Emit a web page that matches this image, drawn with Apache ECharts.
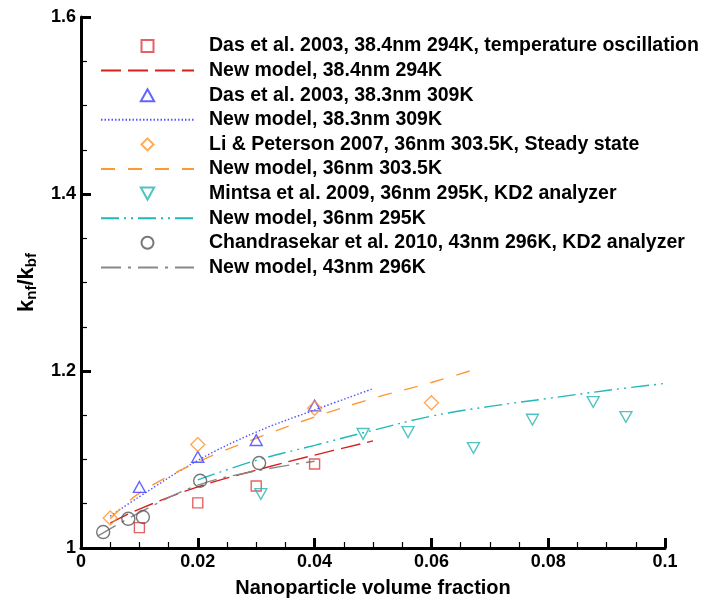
<!DOCTYPE html>
<html><head><meta charset="utf-8">
<script src="https://cdn.jsdelivr.net/npm/echarts@6/dist/echarts.min.js"></script>
<style>html,body{margin:0;padding:0;background:#fff}#c{width:704px;height:607px}</style>
</head><body><div id="c"></div>
<script>
// ---- data ----
const das384 = [[0.01,1.023],[0.02,1.051],[0.03,1.070],[0.04,1.095]];
const model384 = [[0.005,1.028],[0.01,1.044],[0.02,1.069],[0.03,1.088],[0.04,1.105],[0.05,1.121]];
const das383 = [[0.01,1.069],[0.02,1.103],[0.03,1.122],[0.04,1.161]];
const model383 = [[0.005,1.036],[0.01,1.058],[0.02,1.099],[0.03,1.131],[0.04,1.156],[0.05,1.180]];
const li36 = [[0.005,1.034],[0.02,1.117],[0.04,1.158],[0.06,1.164]];
const model36a = [[0.005,1.033],[0.01,1.062],[0.02,1.097],[0.03,1.124],[0.04,1.148],[0.05,1.169],[0.06,1.187],[0.068,1.203]];
const mintsa36 = [[0.0308,1.061],[0.0483,1.129],[0.056,1.131],[0.0672,1.113],[0.0773,1.145],[0.0877,1.165],[0.0933,1.148]];
const model36b = [[0.02,1.077],[0.03,1.099],[0.04,1.116],[0.05,1.133],[0.06,1.149],[0.07,1.160],[0.08,1.169],[0.09,1.178],[0.1,1.186]];
const chandra43 = [[0.0038,1.018],[0.0081,1.033],[0.0106,1.035],[0.0204,1.076],[0.0305,1.096]];
const model43 = [[0.003,1.014],[0.01,1.040],[0.02,1.071],[0.03,1.087],[0.04,1.098]];
const seriesNames = [
  'Das et al. 2003, 38.4nm 294K, temperature oscillation',
  'New model, 38.4nm 294K',
  'Das et al. 2003, 38.3nm 309K',
  'New model, 38.3nm 309K',
  'Li & Peterson 2007, 36nm 303.5K, Steady state',
  'New model, 36nm 303.5K',
  'Mintsa et al. 2009, 36nm 295K, KD2 analyzer',
  'New model, 36nm 295K',
  'Chandrasekar et al. 2010, 43nm 296K, KD2 analyzer',
  'New model, 43nm 296K'
];
const xTitle = 'Nanoparticle volume fraction';

const FONT = 'Liberation Sans, Arial, sans-serif';
const SQ = 'path://M0,0 L10,0 L10,10 L0,10 Z';
const UPTRI = 'path://M5,0 L10,9 L0,9 Z';
const DIAM = 'path://M5,0 L10,5 L5,10 L0,5 Z';
const DOWNTRI = 'path://M0,0 L10,0 L5,9 Z';
const CIRC = 'path://M10,5 A5,5 0 1,1 0,5 A5,5 0 1,1 10,5 Z';
const symbols = [SQ, null, UPTRI, null, DIAM, null, DOWNTRI, null, CIRC, null];
function sc(name, data, symbol, color, size) {
  return { type:'scatter', name, data, symbol, symbolSize:size, symbolKeepAspect:true,
    itemStyle:{ color:'rgba(0,0,0,0)', borderColor:color, borderWidth:1.4 }, z:5 };
}
function ln(name, data, color, dash, width) {
  return { type:'line', name, data, symbol:'none', smooth:0.4,
    lineStyle:{ color, width:width||1.4, type:dash }, itemStyle:{color}, z:3 };
}
const legendData = seriesNames.map((n, i) => i % 2 === 1
  ? { name:n, itemStyle:{ opacity:0 } }
  : { name:n, icon:symbols[i] });
const chart = echarts.init(document.getElementById('c'), null, {renderer:'canvas'});
chart.setOption({
  animation:false,
  backgroundColor:'#fff',
  grid:{ left:81, right:39, top:17, bottom:59 },
  legend:{
    orient:'vertical', left:95, top:31, itemWidth:93, itemHeight:12, itemGap:4.6,
    symbolKeepAspect:true,
    data: legendData,
    textStyle:{ fontFamily:FONT, fontSize:19.5, fontWeight:'bold', color:'#000', padding:[0,0,0,10] }
  },
  xAxis:{
    type:'value', min:0, max:0.1, interval:0.02,
    name:xTitle, nameLocation:'middle', nameGap:30,
    nameTextStyle:{ fontFamily:FONT, fontSize:20, fontWeight:'bold', color:'#000' },
    axisLine:{ lineStyle:{ color:'#000', width:3 } },
    axisTick:{ inside:true, length:10, lineStyle:{ color:'#000', width:3 } },
    minorTick:{ show:true, splitNumber:4, length:6, lineStyle:{ color:'#000', width:1.2 } },
    axisLabel:{ fontFamily:FONT, fontSize:18, fontWeight:'bold', color:'#000', margin:5 },
    splitLine:{ show:false }
  },
  yAxis:{
    type:'value', min:1, max:1.6, interval:0.2,
    name:'{m|k}{s|nf}{m|/k}{s|bf}', nameLocation:'middle', nameGap:42, nameRotate:90,
    nameTextStyle:{ rich:{
      m:{ fontFamily:FONT, fontSize:22, fontWeight:'bold', color:'#000' },
      s:{ fontFamily:FONT, fontSize:15, fontWeight:'bold', color:'#000', padding:[10,0,0,0] }
    } },
    axisLine:{ lineStyle:{ color:'#000', width:3 } },
    axisTick:{ inside:true, length:10, lineStyle:{ color:'#000', width:3 } },
    minorTick:{ show:true, splitNumber:4, length:6, lineStyle:{ color:'#000', width:1.2 } },
    axisLabel:{ fontFamily:FONT, fontSize:18, fontWeight:'bold', color:'#000', margin:5 },
    splitLine:{ show:false }
  },
  series:[
    sc(seriesNames[0], das384, SQ, '#e03a3a', 10),
    ln(seriesNames[1], model384, '#d62020', [20,7]),
    sc(seriesNames[2], das383, UPTRI, '#3c3cff', 12),
    ln(seriesNames[3], model383, '#5555ff', [1.5,2]),
    sc(seriesNames[4], li36, DIAM, '#ff9430', 14),
    ln(seriesNames[5], model36a, '#ff9933', [14,13]),
    sc(seriesNames[6], mintsa36, DOWNTRI, '#26b4b4', 12),
    ln(seriesNames[7], model36b, '#22b8b8', [18,5,2,5,2,5]),
    sc(seriesNames[8], chandra43, CIRC, '#555555', 13),
    ln(seriesNames[9], model43, '#888888', [20,7,3,7])
  ]
});
</script></body></html>
